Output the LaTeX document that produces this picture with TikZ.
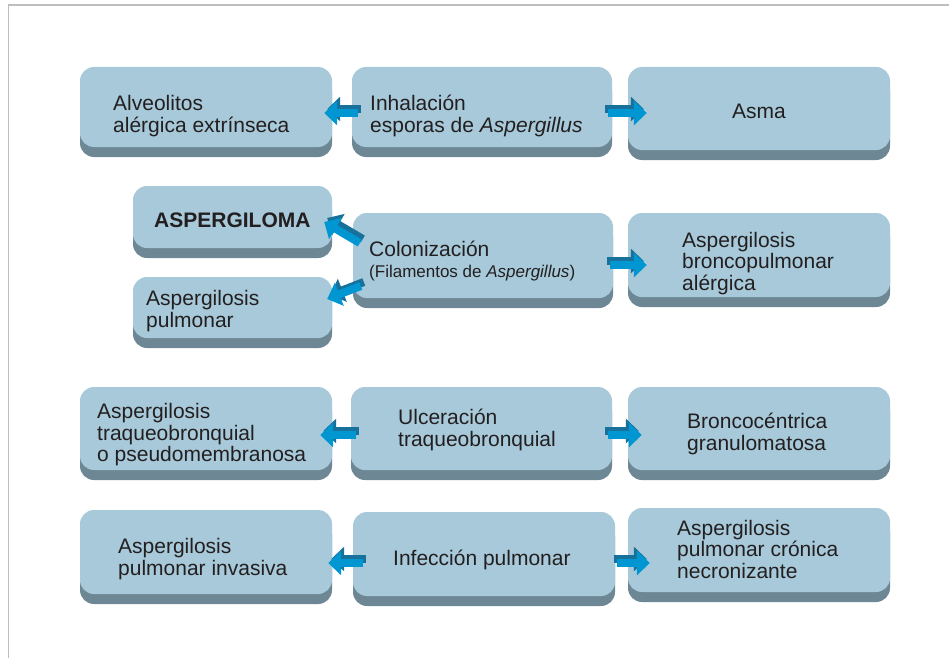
\documentclass[tikz,border=0pt]{standalone}
\usepackage{fontspec}
\setmainfont{Liberation Sans}
\usetikzlibrary{calc, shadows, arrows.meta}

\definecolor{cajaazul}{HTML}{A7C9D9}
\definecolor{cajasombra}{HTML}{6D8794}
\definecolor{flechaazul}{HTML}{0096D2}
\definecolor{flechaosc}{HTML}{17719B}
\definecolor{textogris}{HTML}{231F20}
\definecolor{marco}{HTML}{BEBEBE}

\tikzset{
  caja/.style={rectangle, rounded corners=14pt, fill=cajaazul, inner sep=0pt,
    general shadow={fill=cajasombra, shadow yshift=-10pt}},
  texto/.style={anchor=base west, align=left, inner sep=0pt, text=textogris,
    font=\fontsize{21}{21.5}\selectfont},
  flechafrente/.style={line width=8pt, flechaazul, -{Triangle[length=13pt, width=24pt]}},
  flechasombra/.style={line width=8pt, flechaosc, -{Triangle[length=13pt, width=24pt]}},
}

% block arrow with a dark top face
\newcommand{\bloqueflecha}[3]{%
  \draw[flechasombra, transform canvas={shift={(#3)}}] #1 -- #2;
  \draw[flechafrente] #1 -- #2;}

\begin{document}
\begin{tikzpicture}[x=1pt, y=-1pt]
\useasboundingbox (0,0) rectangle (949,658);

% frame
\draw[marco, line width=1.6pt] (8.5,658) -- (8.5,5) -- (949,5);

% boxes
\node[caja, minimum width=252pt, minimum height=80pt] (alveol) at (206,107) {};
\node[caja, minimum width=260pt, minimum height=80pt] (inhal) at (482,107) {};
\node[caja, minimum width=262pt, minimum height=83pt] (asma) at (759,108.5) {};

\node[caja, minimum width=199pt, minimum height=62pt] (aspergiloma) at (232.5,217) {};
\node[caja, minimum width=260pt, minimum height=85pt] (coloniz) at (483,255.5) {};
\node[caja, minimum width=199pt, minimum height=61pt] (pulmonar) at (232.5,307.5) {};
\node[caja, minimum width=262pt, minimum height=84pt] (abpa) at (759,255) {};

\node[caja, minimum width=252pt, minimum height=83pt] (traqueo) at (206,428.5) {};
\node[caja, minimum width=261pt, minimum height=83pt] (ulcera) at (481.5,428.5) {};
\node[caja, minimum width=262pt, minimum height=83pt] (bronco) at (759,428.5) {};

\node[caja, minimum width=252pt, minimum height=84pt] (invasiva) at (206,552) {};
\node[caja, minimum width=262pt, minimum height=84pt] (infecc) at (484,554) {};
\node[caja, minimum width=262pt, minimum height=84pt] (necro) at (759,550) {};

% arrows
\bloqueflecha{($(inhal.west)+(6,6)$)}{($(alveol.east)+(-8,6)$)}{3pt,4pt}
\bloqueflecha{($(inhal.east)+(-4,6)$)}{($(asma.west)+(19,4.5)$)}{-3pt,4pt}

\bloqueflecha{($(coloniz.west)+(7,-12.5)$)}{($(aspergiloma.east)+(-8,5)$)}{3pt,4pt}
\bloqueflecha{($(coloniz.west)+(8,30.5)$)}{($(pulmonar.east)+(-5,-8.5)$)}{3pt,4pt}
\bloqueflecha{($(coloniz.east)+(-3,9.5)$)}{($(abpa.west)+(19,10)$)}{-3pt,4pt}

\bloqueflecha{($(ulcera.west)+(5,6.5)$)}{($(traqueo.east)+(-12,6.5)$)}{3pt,4pt}
\bloqueflecha{($(ulcera.east)+(-4,6.5)$)}{($(bronco.west)+(14,6.5)$)}{-3pt,4pt}

\bloqueflecha{($(infecc.west)+(10,9)$)}{($(invasiva.east)+(-4,11)$)}{3pt,4pt}
\bloqueflecha{($(infecc.east)+(2,9)$)}{($(necro.west)+(22,13)$)}{-3pt,4pt}

% labels (base = last line)
\node[texto] (talveol) at (113,132) {Alveolitos\\alérgica extrínseca};
\node[texto] (tinhal) at (370,132) {Inhalación\\esporas de \textit{Aspergillus}};
\node[texto, anchor=base] (tasma) at (759,118) {Asma};

\node[texto, font=\fontsize{21}{21.5}\bfseries] (taspergiloma) at (154,227) {ASPERGILOMA};
\node[texto] (tcoloniz) at (369,277) {Colonización\\[-1pt]{\fontsize{17}{19}\selectfont (Filamentos de \textit{Aspergillus})}};
\node[texto] (tpulmonar) at (146,327) {Aspergilosis\\pulmonar};
\node[texto] (tabpa) at (682,290) {Aspergilosis\\broncopulmonar\\alérgica};

\node[texto] (ttraqueo) at (97,461.5) {Aspergilosis\\traqueobronquial\\o pseudomembranosa};
\node[texto] (tulcera) at (398,446) {Ulceración\\traqueobronquial};
\node[texto] (tbronco) at (687,450) {Broncocéntrica\\granulomatosa};

\node[texto] (tinvasiva) at (118,575) {Aspergilosis\\pulmonar invasiva};
\node[texto] (tinfecc) at (393,565) {Infección pulmonar};
\node[texto] (tnecro) at (677,578) {Aspergilosis\\pulmonar crónica\\necronizante};
\end{tikzpicture}
\end{document}
